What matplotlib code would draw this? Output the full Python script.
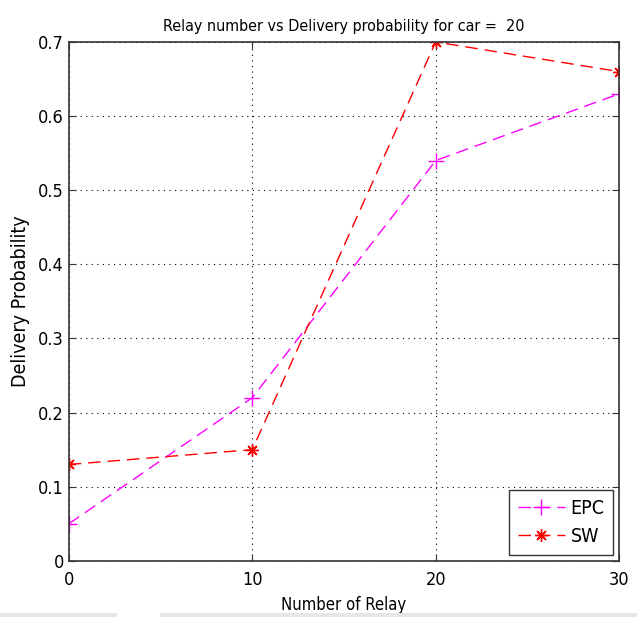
import matplotlib
matplotlib.use("Agg")
import matplotlib.pyplot as plt
from matplotlib import font_manager
from matplotlib.patches import Rectangle

relays = [0, 10, 20, 30]
epc = [0.05, 0.22, 0.54, 0.63]
sw = [0.13, 0.15, 0.70, 0.66]
xticks = [0, 10, 20, 30]
yticks = [0, 0.1, 0.2, 0.3, 0.4, 0.5, 0.6, 0.7]

fl = font_manager.fontManager.ttflist
cands = [f for f in fl if ('Narrow' in f.name or 'Condensed' in f.name or f.stretch in ('condensed', 'semi-condensed', 400)) and 'Mono' not in f.name and 'Serif' not in f.name]
fam = cands[0].name if cands else 'DejaVu Sans'
stretch = cands[0].stretch if cands else 'normal'
plt.rcParams['font.family'] = [fam, 'DejaVu Sans']
plt.rcParams['font.stretch'] = stretch

fig = plt.figure(figsize=(6.37, 6.17), dpi=100)
ax = fig.add_axes([0.108, 0.091, 0.864, 0.841])

ax.plot(relays, epc, color='#ff00ff', linestyle=(0, (9, 5)), linewidth=1.0,
        marker='+', markersize=11, markeredgewidth=1.0, label='EPC')
ax.plot(relays, sw, color='#ff0000', linestyle=(0, (9, 5)), linewidth=1.0,
        marker=(8, 2, 0), markersize=9, markeredgewidth=1.0, label='SW')

ax.set_xlim(0, 30)
ax.set_ylim(0, 0.7)
ax.set_xticks(xticks)
ax.set_yticks(yticks)
ax.set_yticklabels(['0', '0.1', '0.2', '0.3', '0.4', '0.5', '0.6', '0.7'])
ax.grid(True, color='black', linestyle=(0, (1, 4)), linewidth=0.8)
ax.tick_params(direction='in', top=True, right=True, labelsize=13, length=5, color='#333333')
ax.tick_params(axis='x', pad=7)
for s in ax.spines.values():
    s.set_color('#333333')
    s.set_linewidth(1.2)

ax.set_title('Relay number vs Delivery probability for car =  20', fontsize=11.5, pad=8)
ax.set_xlabel('Number of Relay', fontsize=12, labelpad=5)
ax.set_ylabel('Delivery Probability', fontsize=14, labelpad=6)

leg = ax.legend(loc='lower right', fontsize=14, fancybox=False, framealpha=1,
                edgecolor='#333333', handlelength=2.4, handletextpad=0.3,
                borderpad=0.45, borderaxespad=0.3)
leg.get_frame().set_linewidth(1.0)

fig.patches.append(Rectangle((0, 0), 117/637, 4/617, transform=fig.transFigure,
                             facecolor='#e6e6e6', edgecolor='none'))
fig.patches.append(Rectangle((160/637, 0), 477/637, 4/617, transform=fig.transFigure,
                             facecolor='#e6e6e6', edgecolor='none'))

fig.savefig('out.png', dpi=100)
